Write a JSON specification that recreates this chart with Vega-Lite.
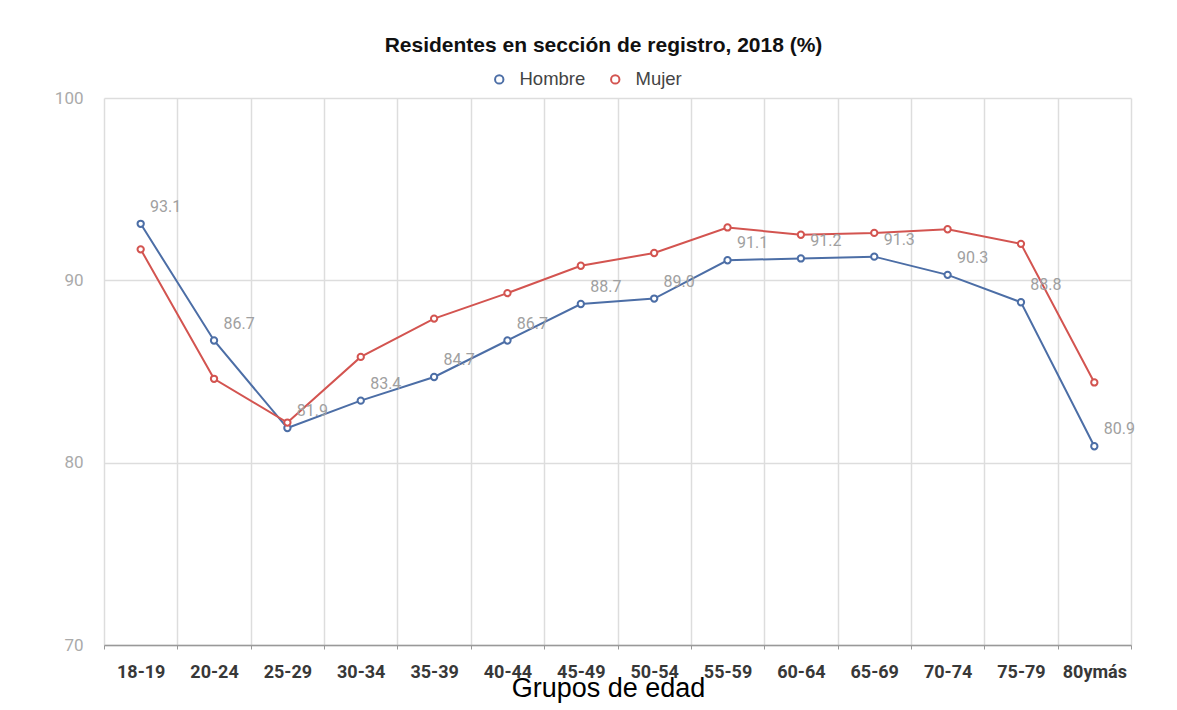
{
  "$schema": "https://vega.github.io/schema/vega-lite/v6.json",
  "width": 1027,
  "height": 547,
  "autosize": {"type": "none"},
  "padding": {"left": 104, "top": 98, "right": 46, "bottom": 65},
  "background": "white",
  "title": {
    "text": "Residentes en sección de registro, 2018 (%)",
    "font": "Liberation Sans",
    "fontSize": 21,
    "fontWeight": "bold",
    "color": "#111",
    "anchor": "middle",
    "frame": "group",
    "offset": 14,
    "dx": -14
  },
  "config": {"view": {"stroke": null}},
  "data": {
    "values": [
      {"grupo": "18-19", "sexo": "Hombre", "valor": 93.1},
      {"grupo": "20-24", "sexo": "Hombre", "valor": 86.7},
      {"grupo": "25-29", "sexo": "Hombre", "valor": 81.9},
      {"grupo": "30-34", "sexo": "Hombre", "valor": 83.4},
      {"grupo": "35-39", "sexo": "Hombre", "valor": 84.7},
      {"grupo": "40-44", "sexo": "Hombre", "valor": 86.7},
      {"grupo": "45-49", "sexo": "Hombre", "valor": 88.7},
      {"grupo": "50-54", "sexo": "Hombre", "valor": 89.0},
      {"grupo": "55-59", "sexo": "Hombre", "valor": 91.1},
      {"grupo": "60-64", "sexo": "Hombre", "valor": 91.2},
      {"grupo": "65-69", "sexo": "Hombre", "valor": 91.3},
      {"grupo": "70-74", "sexo": "Hombre", "valor": 90.3},
      {"grupo": "75-79", "sexo": "Hombre", "valor": 88.8},
      {"grupo": "80ymás", "sexo": "Hombre", "valor": 80.9},
      {"grupo": "18-19", "sexo": "Mujer", "valor": 91.7},
      {"grupo": "20-24", "sexo": "Mujer", "valor": 84.6},
      {"grupo": "25-29", "sexo": "Mujer", "valor": 82.2},
      {"grupo": "30-34", "sexo": "Mujer", "valor": 85.8},
      {"grupo": "35-39", "sexo": "Mujer", "valor": 87.9},
      {"grupo": "40-44", "sexo": "Mujer", "valor": 89.3},
      {"grupo": "45-49", "sexo": "Mujer", "valor": 90.8},
      {"grupo": "50-54", "sexo": "Mujer", "valor": 91.5},
      {"grupo": "55-59", "sexo": "Mujer", "valor": 92.9},
      {"grupo": "60-64", "sexo": "Mujer", "valor": 92.5},
      {"grupo": "65-69", "sexo": "Mujer", "valor": 92.6},
      {"grupo": "70-74", "sexo": "Mujer", "valor": 92.8},
      {"grupo": "75-79", "sexo": "Mujer", "valor": 92.0},
      {"grupo": "80ymás", "sexo": "Mujer", "valor": 84.4}
    ]
  },
  "encoding": {
    "x": {
      "field": "grupo",
      "type": "nominal",
      "sort": null,
      "bandPosition": 0.5,
      "scale": {"type": "band", "paddingInner": 0, "paddingOuter": 0},
      "axis": {
        "title": "Grupos de edad",
        "titleFont": "Liberation Sans",
        "titleFontSize": 27,
        "titleFontWeight": "normal",
        "titleColor": "#000",
        "titlePadding": -6,
        "titleX": 504,
        "labelAngle": 0,
        "labelFont": "Roboto",
        "labelFontSize": 18,
        "labelFontWeight": "bold",
        "labelColor": "#383838",
        "labelPadding": 14,
        "tickBand": "extent",
        "tickSize": 4,
        "tickColor": "#999",
        "domainColor": "#999",
        "domainWidth": 1.5,
        "grid": true,
        "gridColor": "#dddddd",
        "gridWidth": 1.5
      }
    },
    "y": {
      "field": "valor",
      "type": "quantitative",
      "scale": {"domain": [70, 100], "zero": false, "nice": false},
      "axis": {
        "title": null,
        "values": [70, 80, 90, 100],
        "domain": false,
        "ticks": false,
        "labelFont": "Roboto",
        "labelFontSize": 17,
        "labelColor": "#aaaaaa",
        "labelPadding": 21,
        "gridColor": "#dddddd",
        "gridWidth": 1.5
      }
    }
  },
  "layer": [
    {
      "mark": {
        "type": "line",
        "strokeWidth": 2,
        "point": {"filled": false, "fill": "white", "size": 40, "strokeWidth": 2}
      },
      "encoding": {
        "color": {
          "field": "sexo",
          "type": "nominal",
          "scale": {"domain": ["Hombre", "Mujer"], "range": ["#4c6ea6", "#d35450"]},
          "legend": {
            "title": null,
            "orient": "none",
            "direction": "horizontal",
            "legendX": 386,
            "legendY": -28,
            "symbolType": "circle",
            "symbolFillColor": "white",
            "symbolStrokeWidth": 2,
            "symbolSize": 70,
            "labelFont": "Liberation Sans",
            "labelFontSize": 18.5,
            "labelColor": "#444",
            "labelOffset": 11,
            "columnPadding": 20
          }
        }
      }
    },
    {
      "transform": [{"filter": "datum.sexo === 'Hombre'"}],
      "mark": {
        "type": "text",
        "dx": 25,
        "dy": -17,
        "font": "Roboto",
        "fontSize": 16,
        "color": "#a0a0a0"
      },
      "encoding": {
        "text": {"field": "valor", "type": "quantitative", "format": ".1f"}
      }
    }
  ]
}
